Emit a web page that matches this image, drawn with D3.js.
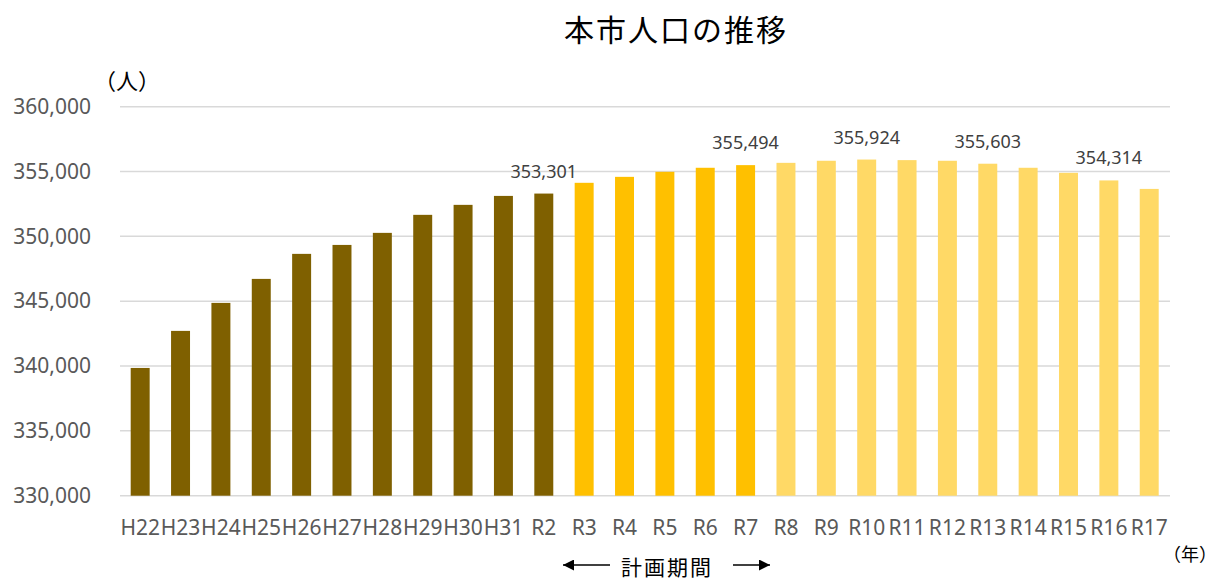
<!DOCTYPE html>
<html><head><meta charset="utf-8">
<script src="https://cdn.jsdelivr.net/npm/d3@7"></script>
<style>
body{margin:0;background:#fff;}
svg text{font-family:"Noto Sans","Noto Sans CJK JP",sans-serif;}
.jp{font-family:"Noto Sans CJK JP",sans-serif !important;}
</style>
</head><body>
<svg id="c" width="1219" height="580"></svg>
<script>
const categories = ["H22","H23","H24","H25","H26","H27","H28","H29","H30","H31","R2","R3","R4","R5","R6","R7","R8","R9","R10","R11","R12","R13","R14","R15","R16","R17"];
const population = [339853,342710,344870,346720,348650,349340,350270,351660,352430,353120,353301,354130,354590,354980,355290,355494,355670,355830,355924,355880,355830,355603,355290,354900,354314,353660];
const periodGroup = ["actual","actual","actual","actual","actual","actual","actual","actual","actual","actual","actual","plan","plan","plan","plan","plan","future","future","future","future","future","future","future","future","future","future"];
const labeledCategories = ["R2","R7","R10","R13","R16"];
const yTicks = [330000,335000,340000,345000,350000,355000,360000];

const colors = {actual:"#7F6000", plan:"#FFC000", future:"#FFD966"};
const svg = d3.select("#c");
const x = d3.scaleBand().domain(categories).range([120,1169.4]).paddingInner(0.53).paddingOuter(0.265);
const y = d3.scaleLinear().domain([330000,360000]).range([495.7,106.7]);
const fmt = d3.format(",");

// gridlines
svg.append("g").selectAll("line").data(yTicks).join("line")
  .attr("x1",120).attr("x2",1170)
  .attr("y1",d=>y(d)).attr("y2",d=>y(d))
  .attr("stroke","#D9D9D9").attr("stroke-width",1.5);

// y axis labels
const yAxis = d3.axisLeft(y).tickValues(yTicks).tickFormat(fmt).tickSize(0).tickPadding(0);
const ya = svg.append("g").attr("transform","translate(91,0)").call(yAxis);
ya.select(".domain").remove();
ya.selectAll("text").attr("font-size","21px").attr("fill","#595959")
  .attr("font-family","Noto Sans").attr("dy","0.32em");

// bars
const data = categories.map((c,i)=>({c, v:population[i], g:periodGroup[i]}));
svg.append("g").selectAll("rect").data(data).join("rect")
  .attr("x",d=>x(d.c)).attr("width",x.bandwidth())
  .attr("y",d=>y(d.v)).attr("height",d=>y(330000)-y(d.v))
  .attr("fill",d=>colors[d.g]);

// x axis labels
const xAxis = d3.axisBottom(x).tickSize(0).tickPadding(0);
const xa = svg.append("g").attr("transform","translate(0,535)").call(xAxis);
xa.select(".domain").remove();
xa.selectAll("text").attr("font-size","21px").attr("fill","#595959")
  .attr("font-family","Noto Sans").attr("dy","0");

// data labels
svg.append("g").selectAll("text").data(data.filter(d=>labeledCategories.includes(d.c))).join("text")
  .attr("x",d=>x(d.c)+x.bandwidth()/2).attr("y",d=>y(d.v)-16)
  .attr("text-anchor","middle").attr("font-size","18px").attr("fill","#404040")
  .text(d=>fmt(d.v));

// title
svg.append("text").attr("class","jp").attr("x",676).attr("y",41).attr("text-anchor","middle")
  .attr("font-size","30px").attr("letter-spacing","2px").attr("fill","#000").text("本市人口の推移");

// unit labels
svg.append("text").attr("class","jp").attr("x",94).attr("y",89).attr("font-size","22px").attr("fill","#000").text("（人）");
svg.append("text").attr("class","jp").attr("x",1163).attr("y",561).attr("font-size","18px").attr("fill","#000").text("（年）");

// plan period annotation
const defs = svg.append("defs");
defs.append("marker").attr("id","ah").attr("viewBox","0 0 10 10").attr("refX",10).attr("refY",5)
  .attr("markerWidth",15).attr("markerHeight",11).attr("markerUnits","userSpaceOnUse").attr("orient","auto")
  .append("path").attr("d","M0,0L10,5L0,10Z").attr("fill","#000");
svg.append("line").attr("x1",610).attr("x2",563).attr("y1",565).attr("y2",565)
  .attr("stroke","#000").attr("stroke-width",1.5).attr("marker-end","url(#ah)");
svg.append("line").attr("x1",733).attr("x2",770).attr("y1",565).attr("y2",565)
  .attr("stroke","#000").attr("stroke-width",1.5).attr("marker-end","url(#ah)");
svg.append("text").attr("class","jp").attr("x",667).attr("y",575).attr("text-anchor","middle")
  .attr("font-size","21px").attr("letter-spacing","2px").attr("fill","#000").text("計画期間");
</script>
</body></html>
